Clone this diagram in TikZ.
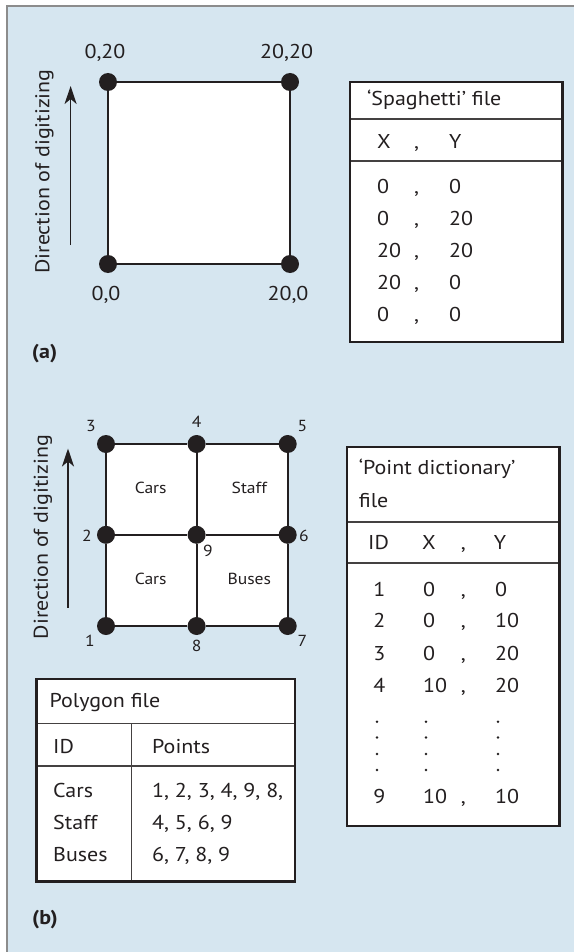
\documentclass[tikz,border=0pt]{standalone}
\usepackage{fontspec}
\setmainfont[FakeStretch=1.1]{PT Sans}
\usetikzlibrary{arrows.meta,backgrounds}
\definecolor{bgblue}{RGB}{214,230,240}
\definecolor{ink}{RGB}{35,31,32}
\definecolor{framegray}{RGB}{140,140,140}
\tikzset{
  vtx/.style={circle,fill=ink,inner sep=0pt,minimum size=18pt},
  edgeline/.style={draw=ink,line width=1.8pt},
  big/.style={font=\fontsize{20}{24}\selectfont,text=ink,inner sep=0pt},
  small/.style={font=\fontsize{16}{19}\selectfont,text=ink,inner sep=0pt},
  panel/.style={font=\fontsize{20}{24}\selectfont\bfseries,text=ink,inner sep=0pt},
  tabfill/.style={fill=white},
  tabframe/.style={draw=ink,line width=2.5pt},
  tabrule/.style={draw=ink!85,line width=1.3pt},
  ellipsisdot/.style={fill=ink},
  dirarrow/.style={draw=ink,line width=1.6pt,-{Stealth[length=18pt,width=12pt,inset=5pt]}},
}
\begin{document}
\begin{tikzpicture}[x=1pt,y=-1pt]
\useasboundingbox (0,0) rectangle (574,952);

% ---------------- panel (a) ----------------
\node[vtx] (p00) at (108,264) {};
\node[vtx] (p02) at (108,82) {};
\node[vtx] (p22) at (290,82) {};
\node[vtx] (p20) at (290,264) {};
\draw[edgeline] (p00) -- (p02) -- (p22) -- (p20) -- (p00);

\node[big,anchor=base] (l02) at (105,58.7) {0,20};
\node[big,anchor=base] (l22) at (286.6,58.7) {20,20};
\node[big,anchor=base] (l00) at (106,300) {0,0};
\node[big,anchor=base] (l20) at (288,300) {20,0};

\coordinate (arA0) at (70.6,245);
\coordinate (arA1) at (70.6,86);
\draw[dirarrow] (arA0) -- (arA1);
\node[big,rotate=90,anchor=base] (dirA) at (49.4,171.5) {Direction of digitizing};

% Spaghetti table
\fill[tabfill] (350,82) rectangle (562.6,342);
\draw[tabrule] (350,119) -- (562.6,119);
\draw[tabrule] (350,161) -- (562.6,161);
\draw[tabframe] (350,82) rectangle (562.6,342);
\node[big,anchor=base west] (spT) at (367,106) {‘Spaghetti’ file};
\node[big,anchor=base west] (spHX) at (377,149) {X};
\node[big,anchor=base] (spHC) at (416.5,149) {,};
\node[big,anchor=base west] (spHY) at (449,149) {Y};
\foreach \xv/\yv/\b [count=\i] in {0/0/193.5, 0/20/225.5, 20/20/257.5, 20/0/289.5, 0/0/321}{
  \node[big,anchor=base west] (sx\i) at (377,\b) {\xv};
  \node[big,anchor=base] (sc\i) at (416.5,\b) {,};
  \node[big,anchor=base west] (sy\i) at (449,\b) {\yv};
}
\node[panel,anchor=base] (lblA) at (44.6,358.7) {(a)};

% ---------------- panel (b) ----------------
\node[vtx] (v1) at (106,626) {};
\node[vtx] (v2) at (106,534.8) {};
\node[vtx] (v3) at (106,444) {};
\node[vtx] (v4) at (196.6,444) {};
\node[vtx] (v5) at (287.7,444) {};
\node[vtx] (v6) at (287.7,534.8) {};
\node[vtx] (v7) at (287.7,626) {};
\node[vtx] (v8) at (196.6,626) {};
\node[vtx] (v9) at (196.6,534.8) {};
\draw[edgeline] (v1) -- (v2) -- (v3) -- (v4) -- (v5) -- (v6) -- (v7) -- (v8) -- (v1);
\draw[edgeline] (v2) -- (v9) -- (v6);
\draw[edgeline] (v4) -- (v9) -- (v8);

\node[small,anchor=base] (n3) at (90.8,431) {3};
\node[small,anchor=base] (n4) at (196.6,427.6) {4};
\node[small,anchor=base] (n5) at (302.3,431) {5};
\node[small,anchor=base] (n2) at (87,541.3) {2};
\node[small,anchor=base] (n6) at (304,541.5) {6};
\node[small,anchor=base] (n9) at (208,556.5) {9};
\node[small,anchor=base] (n1) at (90,646.6) {1};
\node[small,anchor=base] (n8) at (196.6,651) {8};
\node[small,anchor=base] (n7) at (302.3,646.6) {7};

\node[small,anchor=base] (rCars1) at (150.7,493.3) {Cars};
\node[small,anchor=base] (rStaff) at (249.3,493.3) {Staff};
\node[small,anchor=base] (rCars2) at (150.7,584.6) {Cars};
\node[small,anchor=base] (rBuses) at (249.3,584.6) {Buses};

\coordinate (arB0) at (68,607.7);
\coordinate (arB1) at (68,448.5);
\draw[dirarrow] (arB0) -- (arB1);
\node[big,rotate=90,anchor=base] (dirB) at (47.8,537) {Direction of digitizing};

% Point dictionary table
\fill[tabfill] (347,446.8) rectangle (559.3,826);
\draw[tabrule] (347,522) -- (559.3,522);
\draw[tabrule] (347,563) -- (559.3,563);
\draw[tabframe] (347,446.8) rectangle (559.3,826);
\node[big,anchor=base west] (pdT1) at (358.7,474.6) {‘Point dictionary’};
\node[big,anchor=base west] (pdT2) at (358.7,507.3) {file};
\node[big,anchor=base west] (pdHI) at (368,549.6) {ID};
\node[big,anchor=base] (pdHX) at (429,549.6) {X};
\node[big,anchor=base] (pdHC) at (463.3,549.6) {,};
\node[big,anchor=base] (pdHY) at (500,549.6) {Y};
\foreach \id/\xv/\yv/\b [count=\i] in {1/0/0/596, 2/0/10/627.7, 3/0/20/660, 4/10/20/692, 9/10/10/803.7}{
  \node[big,anchor=base] (pi\i) at (379.3,\b) {\id};
  \node[big,anchor=base west] (px\i) at (423,\b) {\xv};
  \node[big,anchor=base] (pc\i) at (463.3,\b) {,};
  \node[big,anchor=base west] (py\i) at (495,\b) {\yv};
}
\foreach \yy in {721.7,737.5,754,770}{
  \fill[ellipsisdot] (377,\yy) circle[radius=1.3pt];
  \fill[ellipsisdot] (426,\yy) circle[radius=1.3pt];
  \fill[ellipsisdot] (498,\yy) circle[radius=1.3pt];
}

% Polygon table
\fill[tabfill] (36.6,679) rectangle (295,881.5);
\draw[tabrule] (36.6,723.8) -- (295,723.8);
\draw[tabrule] (36.6,766) -- (295,766);
\draw[tabrule] (131.8,723.8) -- (131.8,881.5);
\draw[tabframe] (36.6,679) rectangle (295,881.5);
\node[big,anchor=base west] (pgT) at (49.4,707) {Polygon file};
\node[big,anchor=base west] (pgHI) at (53,753) {ID};
\node[big,anchor=base west] (pgHP) at (152,753) {Points};
\node[big,anchor=base west] (pgC1) at (53,797.7) {Cars};
\node[big,anchor=base west] (pgC2) at (53,829.4) {Staff};
\node[big,anchor=base west] (pgC3) at (53,861.8) {Buses};
\node[big,anchor=base west] (pgP1) at (152,797.7) {1, 2, 3, 4, 9, 8,};
\node[big,anchor=base west] (pgP2) at (152,829.4) {4, 5, 6, 9};
\node[big,anchor=base west] (pgP3) at (152,861.8) {6, 7, 8, 9};

\node[panel,anchor=base] (lblB) at (45,924.4) {(b)};

% ---------------- background ----------------
\begin{scope}[on background layer]
  \fill[white] (0,0) rectangle (574,952);
  \fill[bgblue] (6,5) rectangle (574,952);
  \draw[framegray,line width=2pt] (7,952) -- (7,6) -- (574,6);
  \fill[white] (p00.center) rectangle (p22.center);
  \fill[white] (v1.center) rectangle (v5.center);
\end{scope}
\end{tikzpicture}
\end{document}
